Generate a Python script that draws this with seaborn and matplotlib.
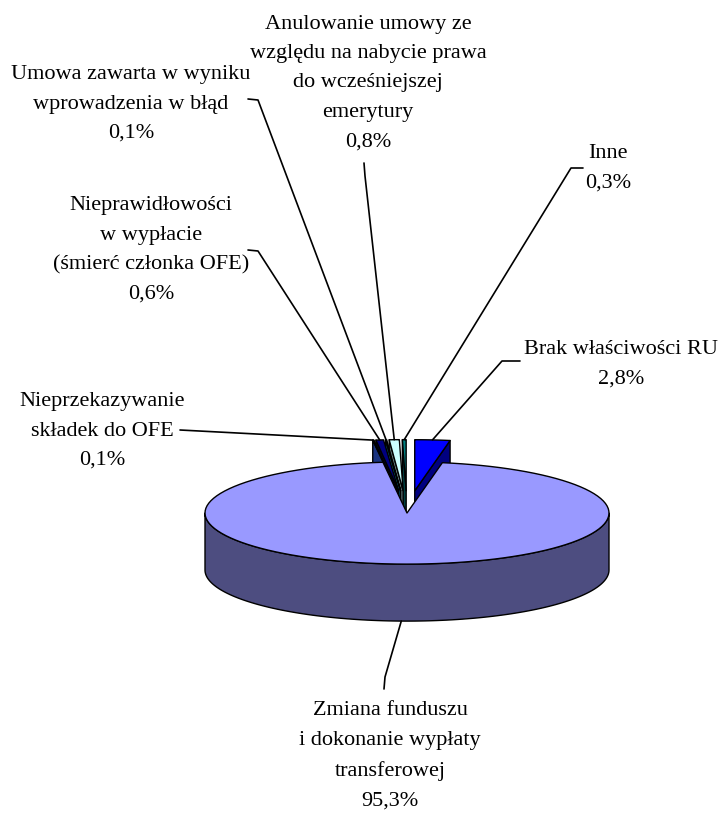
import numpy as np
import seaborn as sns
import matplotlib.pyplot as plt
from matplotlib.patches import Polygon

sns.set_theme(style='white')
plt.rcParams['font.family'] = ['Liberation Serif', 'DejaVu Serif']

# ------------------------------
# Dane (kolejność jak w Excelu, od godz. 12 zgodnie z ruchem wskazówek)
# ------------------------------
categories = [
    'Brak właściwości RU',
    'Zmiana funduszu\ni dokonanie wypłaty\ntransferowej',
    'Nieprzekazywanie\nskładek do OFE',
    'Nieprawidłowości\nw wypłacie\n(śmierć członka OFE)',
    'Umowa zawarta w wyniku\nwprowadzenia w błąd',
    'Anulowanie umowy ze\nwzględu na nabycie prawa\ndo wcześniejszej\nemerytury',
    'Inne',
]
shares = [2.8, 95.3, 0.1, 0.6, 0.1, 0.8, 0.3]
colors = ['#0000FF', '#9999FF', '#3366FF', '#000080', '#00CCFF', '#CCFFFF', '#008080']
exploded = [True, False, True, True, True, True, True]

# ------------------------------
# Geometria "3D" (w pikselach obrazu)
# ------------------------------
W, H = 722, 813
cx, cy = 407, 513
R, K, DEPTH = 202, 0.253, 57
EXPL = 88

fig = plt.figure(figsize=(W / 100, H / 100), dpi=100)
ax = fig.add_axes([0, 0, 1, 1])
ax.set_xlim(0, W)
ax.set_ylim(H, 0)
ax.axis('off')


def shade(c, f=0.5):
    r, g, b = sns.desaturate(c, 1.0)
    return (r * f, g * f, b * f)


def point(phi, off, r=R, z=0.0):
    p = np.radians(phi)
    return (cx + off[0] + r * np.sin(p), cy + off[1] - r * K * np.cos(p) + z)


def arc(a1, a2, off, z=0.0, n=120):
    return [point(a, off, z=z) for a in np.linspace(a1, a2, n)]


bounds = np.concatenate([[0], np.cumsum(shares)]) / 100 * 360
slices = []
for i, s in enumerate(shares):
    a1, a2 = bounds[i], bounds[i + 1]
    mid = (a1 + a2) / 2
    e = EXPL if exploded[i] else 0
    off = (e * np.sin(np.radians(mid)), -e * K * np.cos(np.radians(mid)))
    slices.append((a1, a2, mid, off))

edge = dict(edgecolor='black', linewidth=1.0, joinstyle='round')


def draw_slice(i):
    a1, a2, mid, off = slices[i]
    c = colors[i]
    apex_t = (cx + off[0], cy + off[1])
    apex_b = (apex_t[0], apex_t[1] + DEPTH)
    # ściany boczne (przekroje)
    if 180 < a1 % 360 < 360:
        q = [apex_t, point(a1, off), point(a1, off, z=DEPTH), apex_b]
        ax.add_patch(Polygon(q, closed=True, facecolor=shade(c), **edge))
    if 0 < a2 % 360 < 180:
        q = [apex_t, point(a2, off), point(a2, off, z=DEPTH), apex_b]
        ax.add_patch(Polygon(q, closed=True, facecolor=shade(c), **edge))
    # zewnętrzna ściana (tylko przód)
    lo, hi = max(a1, 90), min(a2, 270)
    if hi > lo:
        q = arc(lo, hi, off) + arc(hi, lo, off, z=DEPTH)
        ax.add_patch(Polygon(q, closed=True, facecolor=shade(c), **edge))
    # wierzch
    q = [apex_t] + arc(a1, a2, off)
    ax.add_patch(Polygon(q, closed=True, facecolor=c, **edge))


# od tyłu do przodu
for i in [6, 5, 4, 3, 2, 0, 1]:
    draw_slice(i)

# ------------------------------
# Etykiety i linie odniesienia
# ------------------------------
labels = [f'{c}\n{s:.1f}%'.replace('.', ',') for c, s in zip(categories, shares)]
label_pos = [(621, 364), (390, 756), (102, 431), (151, 250), (131, 104), (368, 83), (608, 168)]
leader_start = [[(520, 361), (502, 361)],
                [(384, 689), (385, 677)],
                [(180, 430)],
                [(248, 250), (258, 251)],
                [(248, 99), (258, 100)],
                [(364, 163), (365, 176)],
                [(583, 168), (571, 168)]]

for i, (lab, (x, y)) in enumerate(zip(labels, label_pos)):
    ax.text(x, y, lab, ha='center', va='center', fontsize=16,
            linespacing=1.75, color='black')
    a1, a2, mid, off = slices[i]
    if exploded[i]:
        target = point(mid, off)
    else:
        target = point(mid, off, z=DEPTH)
    pts = leader_start[i] + [target]
    ax.plot([p[0] for p in pts], [p[1] for p in pts], color='black', lw=1.2)

fig.savefig('out.png', dpi=100, facecolor='white')
